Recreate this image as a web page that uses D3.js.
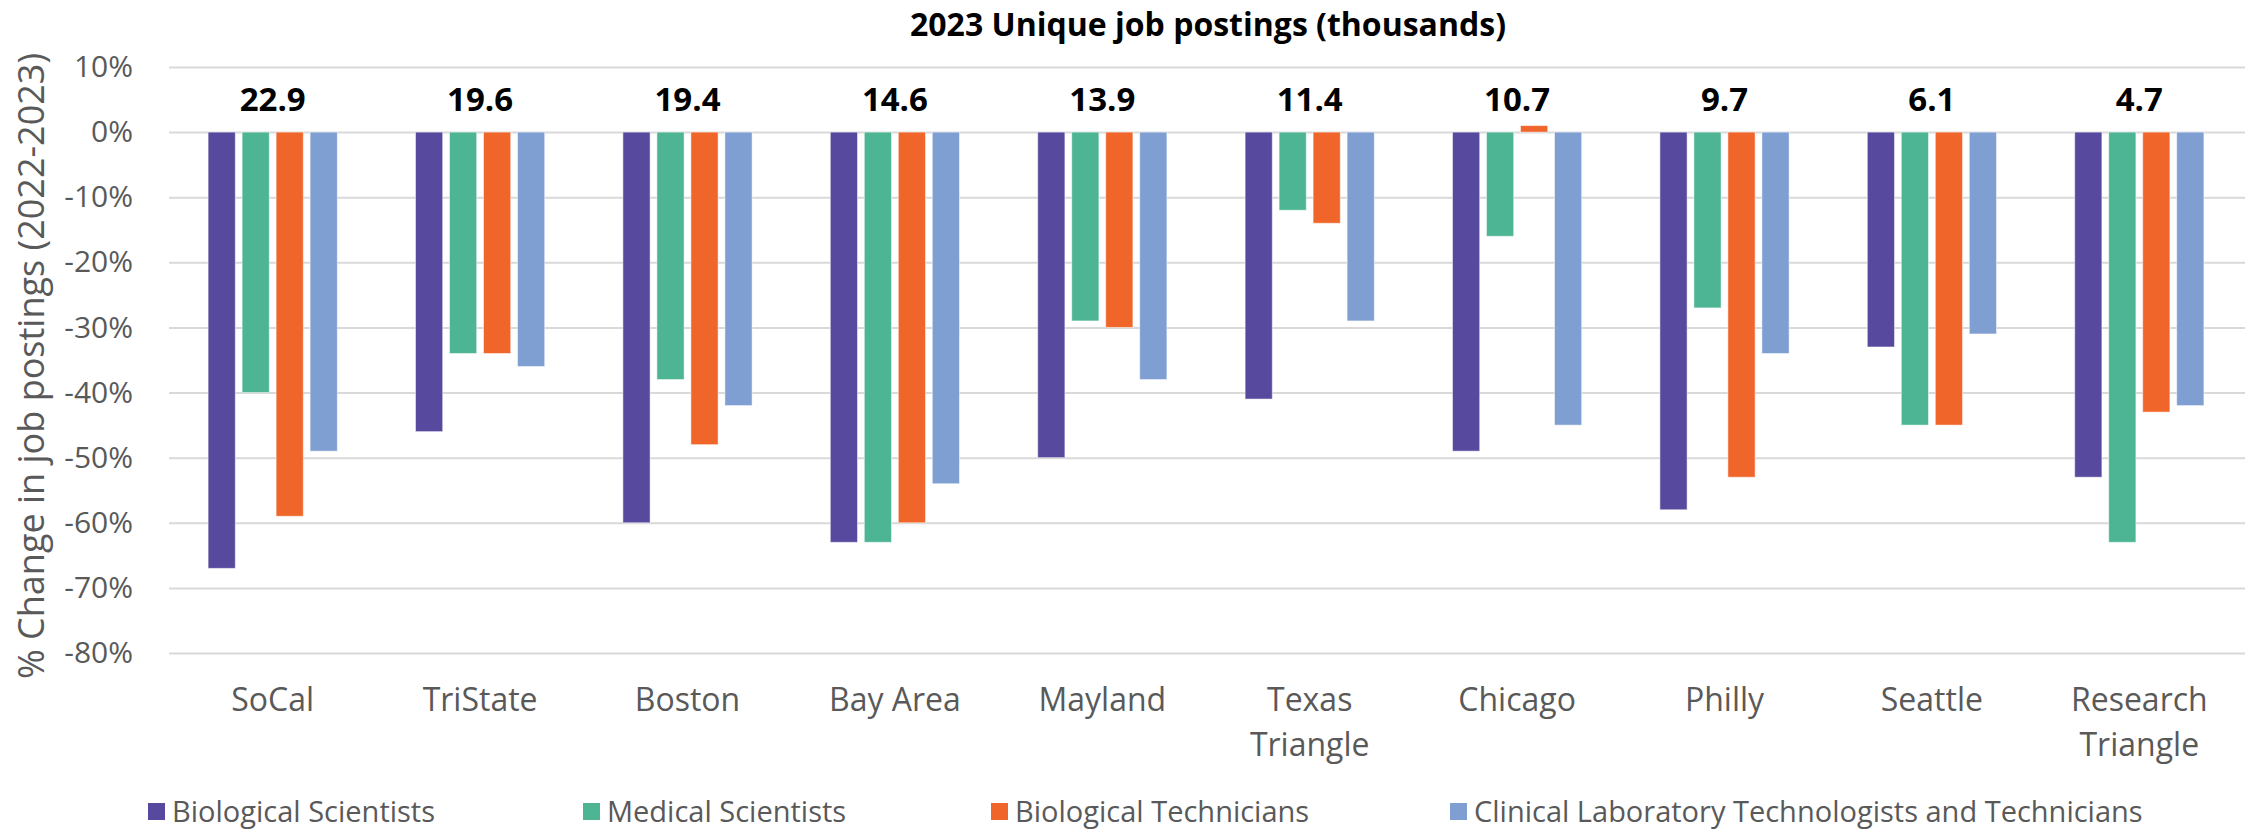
<!DOCTYPE html>
<html>
<head>
<meta charset="utf-8">
<script src="https://cdn.jsdelivr.net/npm/d3@7"></script>
<style>
  html, body { margin: 0; padding: 0; background: #fff; }
  svg { display: block; font-family: "Open Sans", sans-serif; }
</style>
</head>
<body>
<svg id="chart" width="2252" height="830"></svg>
<script>
// Regions (two-line labels split with "\n")
const regions = ["SoCal", "TriState", "Boston", "Bay Area", "Mayland", "Texas\nTriangle",
                 "Chicago", "Philly", "Seattle", "Research\nTriangle"];

// 2023 unique job postings, thousands
const postings2023 = [22.9, 19.6, 19.4, 14.6, 13.9, 11.4, 10.7, 9.7, 6.1, 4.7];

// Occupation series
const seriesNames = ["Biological Scientists", "Medical Scientists", "Biological Technicians",
                     "Clinical Laboratory Technologists and Technicians"];

// % change in job postings 2022-2023, one array per occupation
const biologicalScientists = [-67, -46, -60, -63, -50, -41, -49, -58, -33, -53];
const medicalScientists    = [-40, -34, -38, -63, -29, -12, -16, -27, -45, -63];
const biologicalTechnicians = [-59, -34, -48, -60, -30, -14, 1, -53, -45, -43];
const clinicalLabTechs     = [-49, -36, -42, -54, -38, -29, -45, -34, -31, -42];

const yTicks = [10, 0, -10, -20, -30, -40, -50, -60, -70, -80];

const seriesValues = [biologicalScientists, medicalScientists, biologicalTechnicians, clinicalLabTechs];
const colors = ["#574A9E", "#4DB594", "#F0652A", "#7F9ED2"];

const svg = d3.select("#chart");
const plot = { left: 169, right: 2243, top: 67, bottom: 653 };

const x0 = d3.scaleBand().domain(regions).range([plot.left, plot.right]).padding(0);
const groupHalf = 68;
const x1 = d3.scaleBand().domain(seriesNames)
  .range([x0.bandwidth() / 2 - groupHalf, x0.bandwidth() / 2 + groupHalf])
  .paddingInner(0.2).paddingOuter(0.1);
const y = d3.scaleLinear().domain([-80, 10]).range([plot.bottom, plot.top]);

// Gridlines and tick labels
const yAxis = d3.axisLeft(y)
  .tickValues(yTicks)
  .tickFormat(d => d + "%")
  .tickSize(-(plot.right - plot.left + 2))
  .tickPadding(36);

const gy = svg.append("g")
  .attr("transform", `translate(${plot.left},0)`)
  .call(yAxis);
gy.select(".domain").remove();
gy.selectAll(".tick line").attr("stroke", "#d9d9d9").attr("stroke-width", 2);
gy.selectAll(".tick text")
  .attr("fill", "#595959")
  .style("font-size", "30px")
  .style("font-family", "'Open Sans', sans-serif");

// Bars
const groups = svg.append("g").selectAll("g")
  .data(regions)
  .join("g")
  .attr("transform", d => `translate(${x0(d)},0)`);

groups.selectAll("rect")
  .data((d, i) => seriesNames.map((s, j) => ({ series: s, value: seriesValues[j][i], color: colors[j] })))
  .join("rect")
  .attr("x", d => x1(d.series))
  .attr("width", x1.bandwidth())
  .attr("y", d => y(Math.max(0, d.value)))
  .attr("height", d => Math.abs(y(d.value) - y(0)))
  .attr("fill", d => d.color)
  .attr("stroke", "rgba(255,255,255,0.5)")
  .attr("stroke-width", 1);

// Posting totals above each group
svg.append("g").selectAll("text")
  .data(regions)
  .join("text")
  .attr("x", d => x0(d) + x0.bandwidth() / 2)
  .attr("y", 111)
  .attr("text-anchor", "middle")
  .attr("fill", "#000")
  .style("font-size", "33px")
  .style("font-weight", "700")
  .text((d, i) => postings2023[i].toFixed(1));

// Category labels
const cat = svg.append("g").selectAll("text")
  .data(regions)
  .join("text")
  .attr("x", d => x0(d) + x0.bandwidth() / 2)
  .attr("y", 711)
  .attr("text-anchor", "middle")
  .attr("fill", "#595959")
  .style("font-size", "32px");
cat.selectAll("tspan")
  .data(d => d.split("\n"))
  .join("tspan")
  .attr("x", function () { return this.parentNode.getAttribute("x"); })
  .attr("dy", (d, i) => i === 0 ? 0 : 45)
  .text(d => d);

// Title
svg.append("text")
  .attr("x", 1208)
  .attr("y", 36)
  .attr("text-anchor", "middle")
  .attr("fill", "#000")
  .style("font-size", "32px")
  .style("font-weight", "700")
  .text("2023 Unique job postings (thousands)");

// Y-axis title
svg.append("text")
  .attr("transform", `translate(44,366) rotate(-90)`)
  .attr("text-anchor", "middle")
  .attr("fill", "#595959")
  .style("font-size", "36px")
  .text("% Change in job postings (2022-2023)");

// Legend
const legendX = [148, 583, 991, 1450];
const legend = svg.append("g").selectAll("g")
  .data(seriesNames)
  .join("g")
  .attr("transform", (d, i) => `translate(${legendX[i]},803)`);
legend.append("rect")
  .attr("width", 17).attr("height", 17)
  .attr("fill", (d, i) => colors[i]);
legend.append("text")
  .attr("x", 24)
  .attr("y", 19)
  .attr("fill", "#595959")
  .style("font-size", "29px")
  .text(d => d);
</script>
</body>
</html>
